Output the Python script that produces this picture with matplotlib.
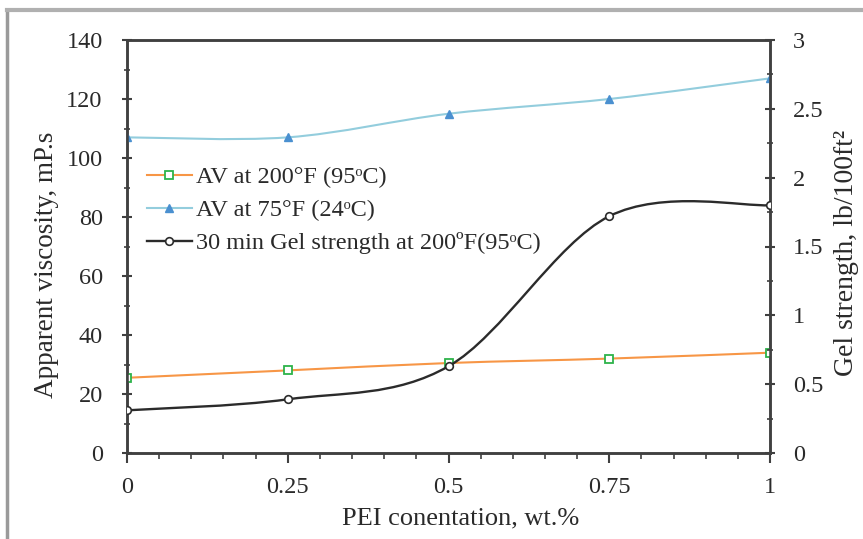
import numpy as np
import matplotlib.pyplot as plt
from matplotlib.path import Path
from matplotlib.patches import PathPatch
from matplotlib.lines import Line2D
from matplotlib.ticker import MultipleLocator

plt.rcParams['font.family'] = ['Liberation Serif', 'DejaVu Serif']

conc = [0, 0.25, 0.5, 0.75, 1]
av_200f = [25.5, 28, 30.5, 32, 34]
av_75f = [107, 107, 115, 120, 127]
gel_200f = [0.31, 0.39, 0.63, 1.72, 1.80]

labels = ['AV at 200°F (95ᵒC)', 'AV at 75°F (24ᵒC)',
          '30 min Gel strength at 200ºF(95ᵒC)']


def smooth_path(x, y, t=1 / 6):
    # bezier segments through the points, like excel's smoothed line
    x = np.asarray(x, float)
    y = np.asarray(y, float)
    n = len(x)
    verts = [(x[0], y[0])]
    codes = [Path.MOVETO]
    for i in range(n - 1):
        x0, y0 = (x[i - 1], y[i - 1]) if i > 0 else (x[i], y[i])
        x3, y3 = (x[i + 2], y[i + 2]) if i + 2 < n else (x[i + 1], y[i + 1])
        c1 = (x[i] + (x[i + 1] - x0) * t, y[i] + (y[i + 1] - y0) * t)
        c2 = (x[i + 1] - (x3 - x[i]) * t, y[i + 1] - (y3 - y[i]) * t)
        verts += [c1, c2, (x[i + 1], y[i + 1])]
        codes += [Path.CURVE4] * 3
    return Path(verts, codes)


fig = plt.figure(figsize=(8.63, 5.39), dpi=100)
ax = fig.add_axes([127 / 863, 1 - 453 / 539, (770 - 127) / 863, (453 - 40) / 539])
ax2 = ax.twinx()

axis_col = '#404040'
text_col = '#2a2a2a'
orange = '#F79646'
green = '#2DB34A'
lblue = '#93CDDD'
blue = '#4A90D0'
dark = '#2B2B2B'
fs = 17.5

ax.add_patch(PathPatch(smooth_path(conc, av_200f), fc='none', ec=orange, lw=1.5, zorder=3))
ax.plot(conc, av_200f, ls='none', marker='s', ms=5.5, mfc='white', mec=green, mew=1.3, zorder=4)
ax.add_patch(PathPatch(smooth_path(conc, av_75f), fc='none', ec=lblue, lw=1.5, zorder=3))
ax.plot(conc, av_75f, ls='none', marker='^', ms=5.5, mfc=blue, mec=blue, zorder=4)
ax2.add_patch(PathPatch(smooth_path(conc, gel_200f), fc='none', ec=dark, lw=1.7, zorder=3))
ax2.plot(conc, gel_200f, ls='none', marker='o', ms=5.5, mfc='white', mec=dark, mew=1.2, zorder=4)

ax.set_xlim(0, 1)
ax.set_ylim(0, 140)
ax2.set_ylim(0, 3)
ax.xaxis.set_minor_locator(MultipleLocator(0.05))
ax.yaxis.set_major_locator(MultipleLocator(20))
ax.yaxis.set_minor_locator(MultipleLocator(10))
ax2.yaxis.set_minor_locator(MultipleLocator(0.25))
ax.set_xticks(conc)
ax.set_xticklabels(['0', '0.25', '0.5', '0.75', '1'])
ax2.set_yticks([0, 0.5, 1, 1.5, 2, 2.5, 3])
ax2.set_yticklabels(['0', '0.5', '1', '1.5', '2', '2.5', '3'])

for a in (ax, ax2):
    for s in a.spines.values():
        s.set_color(axis_col)
        s.set_linewidth(1.8)
    a.tick_params(which='major', length=7, width=1.5, color=axis_col, labelsize=fs,
                  labelcolor=text_col)
    a.tick_params(which='minor', length=4, width=1.2, color=axis_col)
ax.tick_params(axis='y', which='both', direction='inout', pad=14)
ax2.tick_params(axis='y', which='both', direction='inout', pad=13)
ax.tick_params(axis='x', which='both', direction='out', pad=10)

ax.set_xlabel('PEI conentation, wt.%', fontsize=19, color=text_col)
ax.xaxis.set_label_coords((461 - 127) / 643, -(507 - 453) / 413)
ax.set_ylabel('Apparent viscosity, mP.s', fontsize=19.5, color=text_col)
ax.yaxis.set_label_coords(-(127 - 59) / 643, (453 - 265) / 413)
ax2.set_ylabel('Gel strength, lb/100ft²', fontsize=20, color=text_col)
ax2.yaxis.set_label_coords(1 + (834 - 770) / 643, (453 - 253) / 413)

handles = [
    Line2D([], [], color=orange, lw=1.5, marker='s', ms=5.5, mfc='white', mec=green, mew=1.3),
    Line2D([], [], color=lblue, lw=1.5, marker='^', ms=5.5, mfc=blue, mec=blue),
    Line2D([], [], color=dark, lw=1.7, marker='o', ms=5.5, mfc='white', mec=dark, mew=1.2),
]
leg = ax.legend(handles, labels, loc='upper left',
                bbox_to_anchor=((147 - 127) / 643, (453 - 166) / 413), frameon=False,
                fontsize=fs, handlelength=1.85, handletextpad=0.15, labelspacing=0.46,
                borderaxespad=0, borderpad=0)
for t in leg.get_texts():
    t.set_color(text_col)

# grey frame around the figure
fig.add_artist(Line2D([7 / 863, 7 / 863], [0, 1 - 10 / 539], color='#9A9A9A', lw=2.5))
fig.add_artist(Line2D([7 / 863, 1], [1 - 10 / 539, 1 - 10 / 539], color='#B0B0B0', lw=3))

fig.savefig('out.png', dpi=100)
